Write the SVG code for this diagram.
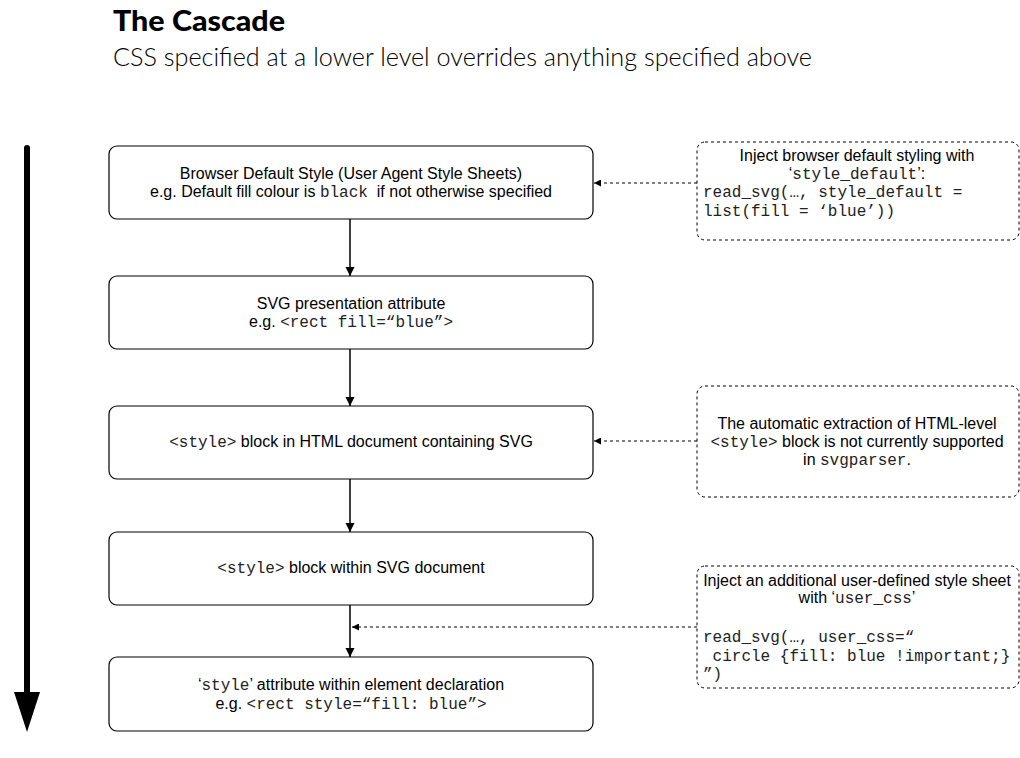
<svg xmlns="http://www.w3.org/2000/svg" width="1020" height="758" viewBox="0 0 1020 758">
<style>
.box{fill:#fff;stroke:#000;stroke-width:1.2}
.side{fill:#fff;stroke:#000;stroke-width:1;stroke-dasharray:3 3}
.t{font-family:"Liberation Sans",Arial,sans-serif;font-size:16px;fill:#000}
.m{font-family:"Liberation Mono","Courier New",monospace;font-size:16px;fill:#222}
.c{text-anchor:middle}
.solid{stroke:#000;stroke-width:1.5;fill:none}
.dash{stroke:#000;stroke-width:1;stroke-dasharray:3 3;fill:none}
</style>
<defs>
<marker id="ah" viewBox="0 0 10 10" refX="10" refY="5" markerWidth="7" markerHeight="7" markerUnits="userSpaceOnUse" orient="auto"><path d="M0,0 L10,5 L0,10 z" fill="#000"/></marker>
<marker id="ahs" viewBox="0 0 10 10" refX="10" refY="5" markerWidth="9" markerHeight="11" markerUnits="userSpaceOnUse" orient="auto"><path d="M0,0 L10,5 L0,10 z" fill="#000"/></marker>
</defs>
<rect width="1020" height="758" fill="#fff"/>
<g id="title">
<text x="113" y="31" font-family="Lato,'Liberation Sans',sans-serif" font-weight="900" font-size="28" textLength="172" lengthAdjust="spacingAndGlyphs">The Cascade</text>
<text x="113" y="66" font-family="Lato,'Liberation Sans',sans-serif" font-weight="300" font-size="25" textLength="699" lengthAdjust="spacingAndGlyphs">CSS specified at a lower level overrides anything specified above</text>
</g>
<g id="cascade-arrow">
<line x1="27" y1="148" x2="27" y2="695" stroke="#000" stroke-width="6" stroke-linecap="round"/>
<path d="M14,692 L40,692 L27,732 z" fill="#000"/>
</g>
<g id="connectors">
<line class="solid" x1="350" y1="219" x2="350" y2="276" marker-end="url(#ahs)"/>
<line class="solid" x1="350" y1="349" x2="350" y2="406" marker-end="url(#ahs)"/>
<line class="solid" x1="350" y1="479" x2="350" y2="532" marker-end="url(#ahs)"/>
<line class="solid" x1="350" y1="605" x2="350" y2="657" marker-end="url(#ahs)"/>
<line class="dash" x1="697" y1="183" x2="594" y2="183" marker-end="url(#ah)"/>
<line class="dash" x1="697" y1="441" x2="594" y2="441" marker-end="url(#ah)"/>
<line class="dash" x1="697" y1="627" x2="352" y2="627" marker-end="url(#ah)"/>
</g>
<g id="node-browser-default">
<rect class="box" x="109" y="146" width="484" height="73" rx="8"/>
<text class="t c" x="351" y="179">Browser Default Style (User Agent Style Sheets)</text>
<text class="t c" x="351" y="197" xml:space="preserve">e.g. Default fill colour is <tspan class="m">black</tspan>  if not otherwise specified</text>
</g>
<g id="node-presentation-attr">
<rect class="box" x="109" y="276" width="484" height="73" rx="8"/>
<text class="t c" x="351" y="309">SVG presentation attribute</text>
<text class="t c" x="351" y="327">e.g. <tspan class="m">&lt;rect fill=“blue”&gt;</tspan></text>
</g>
<g id="node-html-style">
<rect class="box" x="109" y="406" width="484" height="73" rx="8"/>
<text class="t c" x="351" y="447"><tspan class="m">&lt;style&gt;</tspan> block in HTML document containing SVG</text>
</g>
<g id="node-svg-style">
<rect class="box" x="109" y="532" width="484" height="73" rx="8"/>
<text class="t c" x="351" y="573"><tspan class="m">&lt;style&gt;</tspan> block within SVG document</text>
</g>
<g id="node-style-attr">
<rect class="box" x="109" y="657" width="484" height="74" rx="8"/>
<text class="t c" x="351" y="690">‘<tspan class="m">style</tspan>’ attribute within element declaration</text>
<text class="t c" x="351" y="709">e.g. <tspan class="m">&lt;rect style=“fill: blue”&gt;</tspan></text>
</g>
<g id="note-style-default">
<rect class="side" x="697" y="142" width="322" height="98" rx="8"/>
<text class="t c" x="857" y="161">Inject browser default styling with</text>
<text class="t c" x="857" y="179">‘<tspan class="m">style_default</tspan>’:</text>
<text class="m" x="703" y="197">read_svg(…, style_default =</text>
<text class="m" x="703" y="216">list(fill = ‘blue’))</text>
</g>
<g id="note-html-style">
<rect class="side" x="697" y="386" width="322" height="111" rx="8"/>
<text class="t c" x="857" y="429">The automatic extraction of HTML-level</text>
<text class="t c" x="857" y="447"><tspan class="m">&lt;style&gt;</tspan> block is not currently supported</text>
<text class="t c" x="857" y="465">in <tspan class="m">svgparser</tspan>.</text>
</g>
<g id="note-user-css">
<rect class="side" x="697" y="566" width="322" height="122" rx="8"/>
<text class="t c" x="857" y="586">Inject an additional user-defined style sheet</text>
<text class="t c" x="857" y="603">with ‘<tspan class="m">user_css</tspan>’</text>
<text class="m" x="703" y="642">read_svg(…, user_css=“</text>
<text class="m" x="703" y="661" xml:space="preserve"> circle {fill: blue !important;}</text>
<text class="m" x="703" y="679">”)</text>
</g>
</svg>
